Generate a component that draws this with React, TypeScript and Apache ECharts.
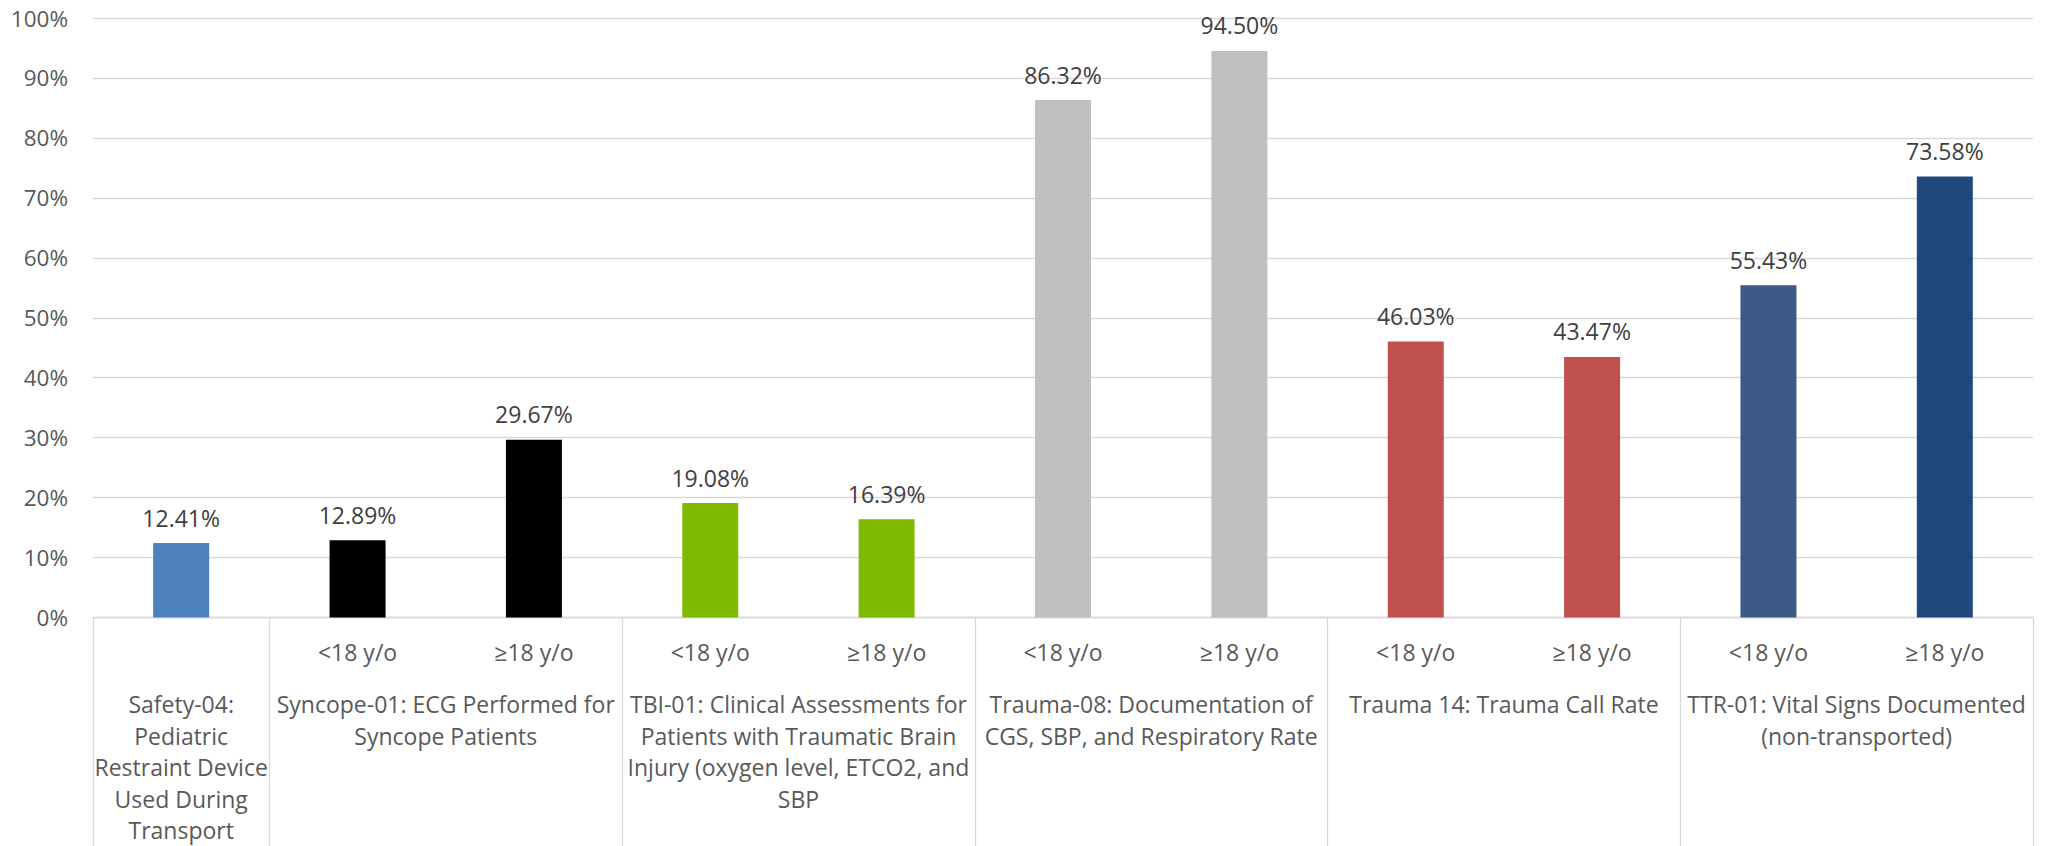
import React, { useEffect, useRef } from "react";
import * as echarts from "echarts";

const subLabels = ["", "<18 y/o", "≥18 y/o", "<18 y/o", "≥18 y/o", "<18 y/o", "≥18 y/o", "<18 y/o", "≥18 y/o", "<18 y/o", "≥18 y/o"];
const values = [12.41, 12.89, 29.67, 19.08, 16.39, 86.32, 94.5, 46.03, 43.47, 55.43, 73.58];
const barColors = ["#4F81BD", "#000000", "#000000", "#7FBA00", "#7FBA00", "#BFBFBF", "#BFBFBF", "#C0504D", "#C0504D", "#3D5A87", "#1F497D"];
const groupNames = [
  "Safety-04:\nPediatric\nRestraint Device\nUsed During\nTransport",
  "Syncope-01: ECG Performed for\nSyncope Patients",
  "TBI-01: Clinical Assessments for\nPatients with Traumatic Brain\nInjury (oxygen level, ETCO2, and\nSBP",
  "Trauma-08: Documentation of\nCGS, SBP, and Respiratory Rate",
  "Trauma 14: Trauma Call Rate",
  "TTR-01: Vital Signs Documented\n(non-transported)",
];
const groupSpans = [1, 2, 2, 2, 2, 2];
const yTicks = [0, 10, 20, 30, 40, 50, 60, 70, 80, 90, 100];

export default function App() {
  const ref = useRef<HTMLDivElement>(null);
  useEffect(() => {
    document.body.style.margin = "0";
    if (!ref.current) return;
    const chart = echarts.init(ref.current, undefined, { renderer: "svg" });

    const total = groupSpans.reduce((a, b) => a + b, 0);
    const groupAxisData: string[] = new Array(total * 2 + 1).fill("");
    const boundaries = new Set<number>();
    let s = 0;
    groupSpans.forEach((span, i) => {
      boundaries.add(2 * s);
      groupAxisData[2 * s + span] = groupNames[i];
      s += span;
    });
    boundaries.add(2 * s);

    const font = "Open Sans";
    const gridColor = "#D9D9D9";

    chart.setOption({
      animation: false,
      grid: { left: 93, right: 16, top: 18, bottom: 227, containLabel: false },
      xAxis: [
        {
          type: "category",
          data: subLabels,
          position: "bottom",
          axisLine: { show: true, lineStyle: { color: gridColor, width: 1.3 } },
          axisTick: { show: false },
          axisLabel: {
            interval: 0,
            margin: 18,
            color: "#595959",
            fontFamily: font,
            fontSize: 23,
            lineHeight: 32,
          },
        },
        {
          type: "category",
          data: groupAxisData,
          position: "bottom",
          offset: 0,
          boundaryGap: false,
          axisLine: { show: false },
          axisTick: {
            show: true,
            inside: false,
            length: 240,
            interval: (index: number) => boundaries.has(index),
            lineStyle: { color: gridColor, width: 1.3 },
          },
          axisLabel: {
            interval: 0,
            margin: 71,
            color: "#595959",
            fontFamily: font,
            fontSize: 23,
            lineHeight: 31.5,
            align: "center",
            verticalAlign: "top",
          },
        },
      ],
      yAxis: {
        type: "value",
        min: yTicks[0],
        max: yTicks[yTicks.length - 1],
        interval: 10,
        axisLine: { show: false },
        axisTick: { show: false },
        splitLine: { show: true, lineStyle: { color: gridColor, width: 1.3 } },
        axisLabel: {
          margin: 25,
          color: "#595959",
          fontFamily: font,
          fontSize: 22.5,
          formatter: (v: number) => `${v}%`,
        },
      },
      series: [
        {
          type: "bar",
          xAxisIndex: 0,
          barWidth: 56,
          data: values.map((v, i) => ({ value: v, itemStyle: { color: barColors[i] } })),
          label: {
            show: true,
            position: "top",
            distance: 14,
            color: "#404040",
            fontFamily: font,
            fontSize: 23,
            formatter: (p: any) => `${Number(p.value).toFixed(2)}%`,
          },
        },
      ],
    });
    return () => chart.dispose();
  }, []);
  return <div ref={ref} style={{ width: 2049, height: 846 }} />;
}
